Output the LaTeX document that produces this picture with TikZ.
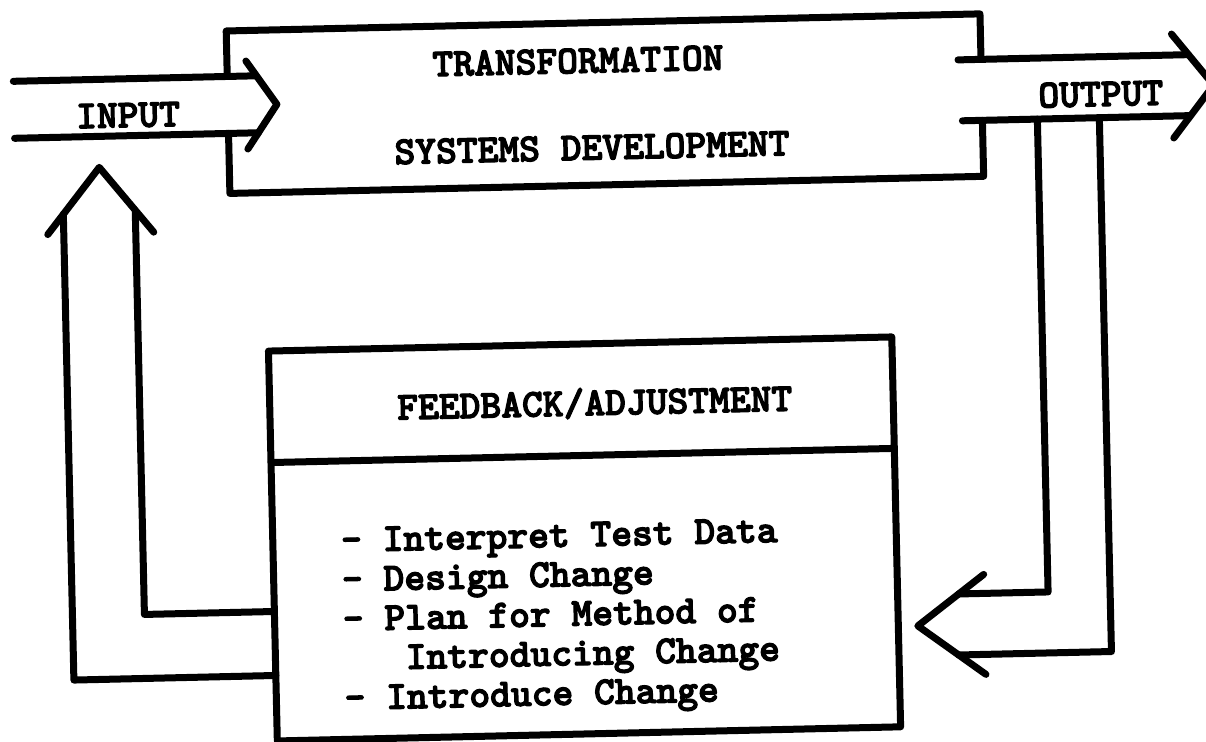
\documentclass[tikz,border=0pt]{standalone}
\usepackage{fontspec}
% heavy Latin Modern typewriter face
\newfontfamily\typerface{lmmonolt10-bold}[Extension=.otf,FakeBold=3]
\begin{document}
\begin{tikzpicture}[x=0.75pt,y=-0.75pt,
  ink/.style={line width=5.25pt,line cap=round,line join=round},
  typed/.style={font=\typerface\fontsize{29.7}{29.6}\selectfont,inner sep=0pt},
  heading/.style={typed,anchor=base},
  item/.style={typed,anchor=base west}]
\useasboundingbox (0,0) rectangle (1206,742);
\clip (0,0) rectangle (1206,742);
% the whole sheet sits slightly askew
\begin{scope}[rotate around={1.3:(603,371)},transform shape]

  % ---- transformation box (open where the arrows pass) ----
  \coordinate (tl) at (234,22.5);
  \coordinate (tr) at (988,22.5);
  \coordinate (bl) at (234,185);
  \coordinate (br) at (988,185);
  \coordinate (inTopGap) at (234,68);
  \coordinate (inBotGap) at (234,125);
  \coordinate (outTopGap) at (988,68);
  \coordinate (outBotGap) at (988,129);
  \draw[ink] (inTopGap) -- (tl) -- (tr) -- (outTopGap);
  \draw[ink] (inBotGap) -- (bl) -- (br) -- (outBotGap);

  \node[heading] (transf) at (585,72.5) {TRANSFORMATION};
  \node[heading] (sysdev) at (597,159.5) {SYSTEMS DEVELOPMENT};

  % ---- input arrow ----
  \coordinate (inA1) at (20,68);
  \coordinate (inA2) at (263,68);
  \coordinate (inB1) at (20,125);
  \coordinate (inB2) at (264,125);
  \coordinate (inArmT) at (253,53);
  \coordinate (inTip) at (283,97);
  \coordinate (inArmB) at (253,141);
  \draw[ink] (inA1) -- (inA2);
  \draw[ink] (inB1) -- (inB2);
  \draw[ink] (inArmT) -- (inTip) -- (inArmB);
  \node[heading] (input) at (134,116.5) {INPUT};

  % ---- output arrow ----
  \coordinate (outA1) at (965,68);
  \coordinate (outA2) at (1195.5,68);
  \coordinate (outB1) at (968,129);
  \coordinate (outB2) at (1196,129);
  \coordinate (outArmT) at (1179,47);
  \coordinate (outTip) at (1220,99);
  \coordinate (outArmB) at (1179,151);
  \draw[ink] (outA1) -- (outA2);
  \draw[ink] (outB1) -- (outB2);
  \draw[ink] (outArmT) -- (outTip) -- (outArmB);
  \node[heading] (output) at (1107,117.5) {OUTPUT};

  % ---- feedback / adjustment box ----
  \coordinate (fbTL) at (269,343.5);
  \coordinate (fbBR) at (892.5,733.5);
  \coordinate (fbDivL) at (269,455);
  \coordinate (fbDivR) at (892.5,455);
  \draw[ink] (fbTL) rectangle (fbBR);
  \draw[ink] (fbDivL) -- (fbDivR);
  \node[heading] (fbhead) at (594,415) {FEEDBACK/ADJUSTMENT};
  \node[item] (it1) at (337,546)   {- Interpret Test Data};
  \node[item] (it2) at (337,585.5) {- Design Change};
  \node[item] (it3) at (337,625)   {- Plan for Method of};
  \node[item] (it4) at (399,664.5) {Introducing Change};
  \node[item] (it5) at (337,704)   {- Introduce Change};

  % ---- return path from output into the feedback box ----
  \coordinate (rInTop) at (1043,129);
  \coordinate (rInBot) at (1043,602);
  \coordinate (rInEnd) at (953.5,602);
  \coordinate (rOutTop) at (1105,129);
  \coordinate (rOutBot) at (1105,663);
  \coordinate (rOutEnd) at (952,663);
  \coordinate (rArmT) at (979,583);
  \coordinate (rTip) at (912,633);
  \coordinate (rArmB) at (979,683);
  \draw[ink] (rInTop) -- (rInBot) -- (rInEnd);
  \draw[ink] (rOutTop) -- (rOutBot) -- (rOutEnd);
  \draw[ink] (rArmT) -- (rTip) -- (rArmB);

  % ---- return path from the feedback box back to the input ----
  \coordinate (lInStart) at (269,604);
  \coordinate (lInCorner) at (139,604);
  \coordinate (lInTop) at (139,200);
  \coordinate (lOutStart) at (269,668);
  \coordinate (lOutCorner) at (67,668);
  \coordinate (lOutTop) at (67,202);
  \coordinate (lArmL) at (51,222);
  \coordinate (lTip) at (104,156);
  \coordinate (lArmR) at (157,222);
  \draw[ink] (lInStart) -- (lInCorner) -- (lInTop);
  \draw[ink] (lOutStart) -- (lOutCorner) -- (lOutTop);
  \draw[ink] (lArmL) -- (lTip) -- (lArmR);

\end{scope}
\end{tikzpicture}
\end{document}
